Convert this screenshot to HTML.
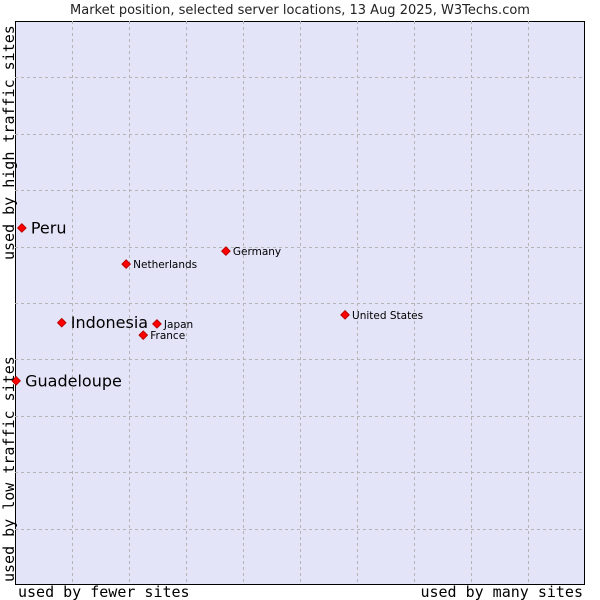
<!DOCTYPE html>
<html><head><meta charset="utf-8"><style>
body{margin:0;background:#fff;width:600px;height:600px;overflow:hidden}
svg{display:block}
</style></head><body>
<svg width="600" height="600" xmlns="http://www.w3.org/2000/svg">
<text x="300" y="14" text-anchor="middle" font-family="DejaVu Sans, sans-serif" font-size="13" fill="#222">Market position, selected server locations, 13 Aug 2025, W3Techs.com</text>
<rect x="15.5" y="21.5" width="569" height="563" fill="#e3e4f8" stroke="#000" stroke-width="1"/>
<g id="grid"></g>
<g id="pts"></g>
<text x="18" y="597" font-family="DejaVu Sans Mono, monospace" font-size="15">used by fewer sites</text>
<text x="583" y="597" text-anchor="end" font-family="DejaVu Sans Mono, monospace" font-size="15">used by many sites</text>
<text transform="translate(14,582) rotate(-90)" font-family="DejaVu Sans Mono, monospace" font-size="15">used by low traffic sites</text>
<text transform="translate(14,260) rotate(-90)" font-family="DejaVu Sans Mono, monospace" font-size="15">used by high traffic sites</text>
</svg>
<script>
const names=["Peru","Indonesia","Guadeloupe","Netherlands","Germany","Japan","France","United States"];
const xValues=[1.2,8.2,0.2,19.5,37.0,24.9,22.5,57.9];
const yValues=[63.3,46.5,36.2,56.9,59.2,46.3,44.3,47.9];
const bigLabel=[true,true,true,false,false,false,false,false];
const L=15,R=585,T=21,B=585;
const xs=v=>L+v/100*(R-L), ys=v=>B-v/100*(B-T);
const NS="http://www.w3.org/2000/svg";
const grid=document.getElementById('grid');
for(let i=1;i<10;i++){
  const a=document.createElementNS(NS,'line');
  
  
  const x=Math.round(xs(i*10))+0.5;
  a.setAttribute('x1',x);a.setAttribute('x2',x);a.setAttribute('y1',T);a.setAttribute('y2',B);
  a.setAttribute('stroke','#b4b4b4');a.setAttribute('stroke-dasharray','3,3');
  grid.appendChild(a);
  const b=document.createElementNS(NS,'line');
  
  
  const y=Math.round(ys(i*10))+0.5;
  b.setAttribute('y1',y);b.setAttribute('y2',y);b.setAttribute('x1',L);b.setAttribute('x2',R);
  b.setAttribute('stroke','#b4b4b4');b.setAttribute('stroke-dasharray','3,3');
  grid.appendChild(b);
}
const pts=document.getElementById('pts');
names.forEach((n,i)=>{
  const x=xs(xValues[i]),y=ys(yValues[i]);
  const p=document.createElementNS(NS,'polygon');
  
  
  p.setAttribute('points',`${x},${y-4.2} ${x+4.2},${y} ${x},${y+4.2} ${x-4.2},${y}`);
  p.setAttribute('fill','#ff0000');p.setAttribute('stroke','#b00');p.setAttribute('stroke-width','1');p.setAttribute('stroke-linejoin','round');
  pts.appendChild(p);
  const t=document.createElementNS(NS,'text');
  
  
  t.setAttribute('x',x+(bigLabel[i]?9:7));
  t.setAttribute('y',y+(bigLabel[i]?5.5:4));
  t.setAttribute('font-family','DejaVu Sans, sans-serif');
  t.setAttribute('font-size',bigLabel[i]?'16':'10.5');
  t.textContent=n;
  pts.appendChild(t);
});
</script>
</body></html>
